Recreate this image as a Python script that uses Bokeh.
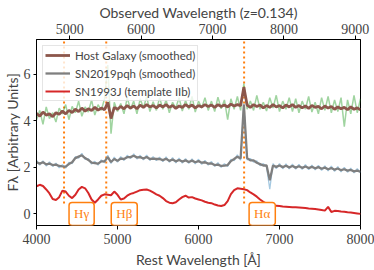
from bokeh.plotting import figure
from bokeh.models import Range1d, LinearAxis, FixedTicker, Label
from bokeh.embed import file_html
from bokeh.resources import INLINE

Z = 0.134
wavelength = list(range(4000, 8001, 40))

host_smooth = [4.32, 4.20, 4.38, 4.25, 4.30, 4.18, 4.35, 4.28, 4.42, 4.30,
               4.45, 4.36, 4.50, 4.40, 4.55, 4.42, 4.52, 4.45, 4.58, 4.46,
               4.55, 4.48, 4.80, 4.10, 4.58, 4.50, 4.62, 4.52, 4.66, 4.55,
               4.64, 4.52, 4.68, 4.58, 4.70, 4.60, 4.66, 4.56, 4.68, 4.60,
               4.70, 4.58, 4.66, 4.54, 4.64, 4.58, 4.70, 4.60, 4.68, 4.56,
               4.66, 4.60, 4.70, 4.62, 4.68, 4.58, 4.70, 4.62, 4.68, 4.60,
               4.72, 4.64, 4.70, 4.66, 5.45, 4.68, 4.58, 4.70, 4.62, 4.68,
               4.56, 4.66, 4.58, 4.70, 4.60, 4.66, 4.56, 4.68, 4.60, 4.70,
               4.58, 4.66, 4.56, 4.64, 4.54, 4.66, 4.58, 4.62, 4.52, 4.64,
               4.55, 4.62, 4.50, 4.60, 4.52, 4.58, 4.48, 4.60, 4.50, 4.56,
               4.48]

host_raw = [4.05, 4.45, 3.85, 4.60, 4.10, 4.35, 3.95, 4.55, 4.30, 4.70,
            4.05, 4.62, 4.35, 4.85, 4.20, 4.60, 4.38, 4.90, 4.25, 4.70,
            4.45, 4.95, 6.40, 3.45, 4.80, 4.40, 4.75, 4.30, 5.00, 4.50,
            4.85, 4.30, 4.95, 4.55, 5.05, 4.40, 4.82, 4.45, 5.00, 4.50,
            4.90, 4.35, 4.80, 4.55, 5.00, 4.42, 4.88, 4.50, 5.05, 4.38,
            4.85, 4.55, 5.00, 4.45, 4.85, 4.40, 5.02, 4.52, 4.90, 4.05,
            4.95, 4.50, 5.05, 4.45, 5.60, 4.50, 4.85, 4.45, 5.10, 4.50,
            4.80, 4.42, 5.00, 4.55, 5.10, 4.40, 4.85, 4.50, 5.00, 4.40,
            4.95, 4.35, 4.85, 4.50, 5.05, 4.38, 4.80, 4.30, 5.00, 4.45,
            5.05, 4.35, 4.90, 4.40, 5.00, 3.75, 4.90, 4.30, 5.10, 4.35,
            4.95]

sn_smooth = [2.22, 2.16, 2.22, 2.13, 2.16, 2.10, 2.12, 2.06, 2.04, 2.03,
             2.14, 2.22, 2.40, 2.46, 2.52, 2.40, 2.32, 2.20, 2.18, 2.16,
             2.26, 2.26, 2.44, 2.23, 2.36, 2.28, 2.38, 2.36, 2.44, 2.44,
             2.50, 2.43, 2.44, 2.38, 2.45, 2.36, 2.38, 2.36, 2.36, 2.31,
             2.37, 2.28, 2.34, 2.26, 2.32, 2.25, 2.30, 2.23, 2.29, 2.22,
             2.27, 2.20, 2.22, 2.16, 2.17, 2.10, 2.12, 2.06, 2.08, 2.10,
             2.27, 2.36, 2.46, 2.38, 4.70, 2.40, 2.30, 2.30, 2.20, 2.14,
             2.08, 2.09, 1.45, 2.08, 2.02, 2.08, 2.01, 2.07, 2.00, 2.06,
             1.99, 2.05, 1.98, 2.04, 1.97, 2.02, 1.96, 2.01, 1.94, 1.99,
             1.92, 1.97, 1.90, 1.95, 1.88, 1.92, 1.86, 1.89, 1.83, 1.86,
             1.81]

sn_raw = [2.30, 2.10, 2.28, 2.06, 2.24, 2.04, 2.18, 1.98, 2.12, 1.97,
          2.22, 2.16, 2.46, 2.40, 2.60, 2.34, 2.38, 2.14, 2.26, 2.10,
          2.32, 2.20, 2.52, 2.17, 2.44, 2.22, 2.46, 2.30, 2.52, 2.38,
          2.58, 2.36, 2.52, 2.32, 2.53, 2.30, 2.46, 2.29, 2.44, 2.25,
          2.45, 2.22, 2.42, 2.19, 2.40, 2.18, 2.38, 2.17, 2.37, 2.15,
          2.35, 2.13, 2.30, 2.10, 2.25, 2.04, 2.20, 2.00, 2.16, 2.04,
          2.35, 2.29, 2.54, 2.31, 4.75, 2.32, 2.38, 2.23, 2.28, 2.07,
          2.16, 2.02, 1.06, 2.16, 1.95, 2.16, 1.94, 2.15, 1.93, 2.14,
          1.92, 2.13, 1.91, 2.12, 1.90, 2.10, 1.89, 2.09, 1.87, 2.07,
          1.85, 2.05, 1.83, 2.03, 1.81, 2.00, 1.79, 1.97, 1.76, 1.94,
          1.76]

template_iib = [1.19, 1.25, 1.20, 1.05, 0.88, 0.64, 0.60, 0.72, 1.00, 0.96,
                0.78, 0.68, 0.82, 1.05, 1.16, 1.10, 0.90, 0.62, 0.48, 0.62,
                0.78, 0.84, 0.82, 0.80, 0.96, 0.82, 0.62, 0.66, 0.78, 0.86,
                0.90, 0.96, 1.02, 1.04, 1.05, 1.00, 0.92, 0.84, 0.78, 0.68,
                0.55, 0.48, 0.46, 0.50, 0.62, 0.72, 0.78, 0.70, 0.72, 0.66,
                0.62, 0.58, 0.52, 0.48, 0.46, 0.40, 0.36, 0.34, 0.38, 0.55,
                0.85, 1.02, 1.10, 1.08, 1.06, 1.02, 0.92, 0.84, 0.74, 0.62,
                0.52, 0.44, 0.38, 0.36, 0.35, 0.34, 0.32, 0.31, 0.30, 0.29,
                0.28, 0.27, 0.26, 0.25, 0.23, 0.22, 0.21, 0.19, 0.17, 0.14,
                0.30, 0.08, 0.13, 0.12, 0.10, 0.09, 0.07, 0.06, 0.04, 0.02,
                0.00]

line_names = ["H\u03b3", "H\u03b2", "H\u03b1"]
line_wavelengths = [4340, 4861, 6563]

x_ticks = [4000, 5000, 6000, 7000, 8000]
top_ticks = [5000, 6000, 7000, 8000, 9000]
y_ticks = [0, 2, 4, 6]

SERIF = "Liberation Serif"
SANS = "Lato"
ORANGE = "#ff7f0e"

p = figure(width=374, height=270, x_range=Range1d(4000, 8000), y_range=Range1d(-0.5, 7.5),
           output_backend="svg", toolbar_location=None,
           min_border_left=36, min_border_right=14, min_border_top=37, min_border_bottom=45)
p.background_fill_color = "white"
p.border_fill_color = "white"
p.outline_line_color = "black"
p.outline_line_width = 1
p.grid.visible = False

bottom = p.below[0]
left = p.left[0]
p.extra_x_ranges = {"obs": Range1d(4000 * (1 + Z), 8000 * (1 + Z))}
top = LinearAxis(x_range_name="obs", axis_label="Observed Wavelength (z=0.134)")
p.add_layout(top, "above")

for ax in [bottom, left, top]:
    ax.major_label_text_font = SERIF
    ax.major_label_text_font_size = "14px"
    ax.axis_label_text_font = SANS
    ax.axis_label_text_font_size = "14px"
    ax.axis_label_text_font_style = "normal"
    ax.minor_tick_line_color = None
    ax.major_tick_in = 0
    ax.major_tick_out = 4
    ax.major_label_standoff = 4
    ax.axis_label_standoff = 4

bottom.ticker = FixedTicker(ticks=x_ticks)
top.ticker = FixedTicker(ticks=top_ticks)
left.ticker = FixedTicker(ticks=y_ticks)
bottom.axis_label = "Rest Wavelength [\u00c5]"
left.axis_label = "F\u03bb [Arbitrary Units]"
left.major_label_standoff = 3
left.axis_label_standoff = 0
left.major_tick_out = 3
top.major_label_standoff = 2
top.axis_label_standoff = 0

# emission line markers
for w in line_wavelengths:
    p.segment(x0=[w], y0=[0.45], x1=[w], y1=[7.5], line_color=ORANGE, line_width=2,
              line_dash="2 3")

p.line(wavelength, host_raw, line_color="#2ca02c", line_alpha=0.45, line_width=1.5)
p.line(wavelength, host_smooth, line_color="#8c564b", line_width=2.8,
       legend_label="Host Galaxy (smoothed)")
p.line(wavelength, sn_raw, line_color="#1f77b4", line_alpha=0.4, line_width=1.3)
p.line(wavelength, sn_smooth, line_color="#7f7f7f", line_width=2.3,
       legend_label="SN2019pqh (smoothed)")
p.line(wavelength, template_iib, line_color="#d62728", line_width=2,
       legend_label="SN1993J (template IIb)")

for name, w in zip(line_names, line_wavelengths):
    lab = Label(x=w, y=0, text=name, text_align="left", text_baseline="middle",
                text_color=ORANGE, text_font=SERIF, text_font_size="13px",
                x_offset=5, padding=(5, 4), border_line_color=ORANGE, border_line_width=1.5,
                border_radius=3, background_fill_color="white")
    p.add_layout(lab)

lg = p.legend[0]
lg.location = "top_left"
lg.label_text_font = SANS
lg.label_text_font_size = "11.5px"
lg.glyph_width = 25
lg.glyph_height = 14
lg.label_height = 14
lg.spacing = 4
lg.padding = 2
lg.margin = 6
lg.border_line_color = "#cccccc"
lg.background_fill_alpha = 0.8

open("out.html", "w").write(file_html(p, INLINE))
